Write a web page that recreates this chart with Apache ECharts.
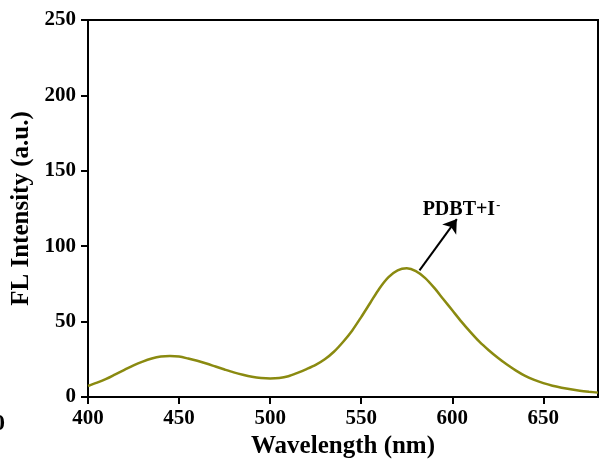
<!DOCTYPE html>
<html>
<head>
    <meta charset="utf-8">
    <title>FL Spectrum</title>
    <script src="https://cdn.jsdelivr.net/npm/echarts@6/dist/echarts.min.js"></script>
    <style>
        html, body { margin: 0; padding: 0; background: #fff; }
        #chart { width: 603px; height: 459px; }
    </style>
</head>
<body>
<div id="chart"></div>
<script>
    // spectrum
    var wavelengths = [400, 405, 410, 415, 420, 425, 430, 435, 440, 445, 450, 455, 460, 465, 470, 475,
        480, 485, 490, 495, 500, 505, 510, 515, 520, 525, 530, 535, 540, 545, 550, 555, 560, 565, 570,
        575, 580, 585, 590, 595, 600, 605, 610, 615, 620, 625, 630, 635, 640, 645, 650, 655, 660, 665,
        670, 675, 680];
    var intensity = [7.3, 9.5, 12, 15, 18, 21, 23.5, 25.5, 26.8, 27.2, 26.8, 25.5, 24, 22.2, 20.2, 18.2,
        16.3, 14.7, 13.4, 12.6, 12.3, 12.6, 13.8, 16, 18.5, 21.3, 25, 30, 36.5, 44, 53, 62.5, 72, 79.5, 84,
        85.3, 83.5, 79, 72.5, 65, 57.5, 50, 43, 36.5, 31, 26, 21.5, 17.5, 14, 11.3, 9.2, 7.5, 6.2, 5.1,
        4.2, 3.5, 2.9];
    var arrowFrom = [582, 84];
    var arrowTo = [602.5, 118];
    var labelAt = [605, 124];

    var font = '"Liberation Serif", "Times New Roman", serif';
    var pts = wavelengths.map(function (w, i) { return [w, intensity[i]]; });

    var chart = echarts.init(document.getElementById('chart'));
    chart.setOption({
        animation: false,
        backgroundColor: '#fff',
        grid: {
            left: 88, right: 5, top: 20, bottom: 62,
            containLabel: false, outerBoundsMode: 'none',
            show: true, borderColor: '#000', borderWidth: 2
        },
        xAxis: {
            type: 'value', min: 400, max: 680, interval: 50,
            name: 'Wavelength (nm)', nameLocation: 'middle', nameGap: 28,
            nameTextStyle: { fontFamily: font, fontWeight: 'bold', fontSize: 25, color: '#000' },
            axisLine: { show: true, lineStyle: { color: '#000', width: 2 } },
            axisTick: { show: true, length: 7, lineStyle: { color: '#000', width: 2 } },
            axisLabel: { fontFamily: font, fontWeight: 'bold', fontSize: 21, color: '#000', margin: 11, showMaxLabel: false },
            splitLine: { show: false }
        },
        yAxis: {
            type: 'value', min: 0, max: 250, interval: 50,
            name: 'FL Intensity (a.u.)', nameLocation: 'middle', nameGap: 53,
            nameTextStyle: { fontFamily: font, fontWeight: 'bold', fontSize: 25, color: '#000' },
            axisLine: { show: true, lineStyle: { color: '#000', width: 2 } },
            axisTick: { show: true, length: 7, lineStyle: { color: '#000', width: 2 } },
            axisLabel: { fontFamily: font, fontWeight: 'bold', fontSize: 21, color: '#000', margin: 12 },
            splitLine: { show: false }
        },
        series: [{
            type: 'line',
            data: pts,
            smooth: 0.3,
            showSymbol: false,
            lineStyle: { color: '#8a8a10', width: 2.5 },
            markLine: {
                silent: true,
                symbol: ['none', 'arrow'],
                symbolSize: 13,
                lineStyle: { color: '#000', width: 2, type: 'solid' },
                label: { show: false },
                data: [[{ coord: arrowFrom }, { coord: arrowTo }]]
            },
            markPoint: {
                silent: true,
                symbol: 'circle', symbolSize: 0,
                label: {
                    show: true,
                    formatter: '{a|PDBT+I}{b|-}',
                    rich: {
                        a: { fontFamily: font, fontWeight: 'bold', fontSize: 20, color: '#000' },
                        b: { fontFamily: font, fontWeight: 'bold', fontSize: 12, color: '#000', verticalAlign: 'top', padding: [0, 0, 8, 1] }
                    }
                },
                data: [{ coord: labelAt }]
            }
        }],
        graphic: [{
            type: 'text', left: -7, top: 412,
            style: { text: '0', font: 'bold 24px "Liberation Serif", serif', fill: '#000' }
        }]
    });
</script>
</body>
</html>
